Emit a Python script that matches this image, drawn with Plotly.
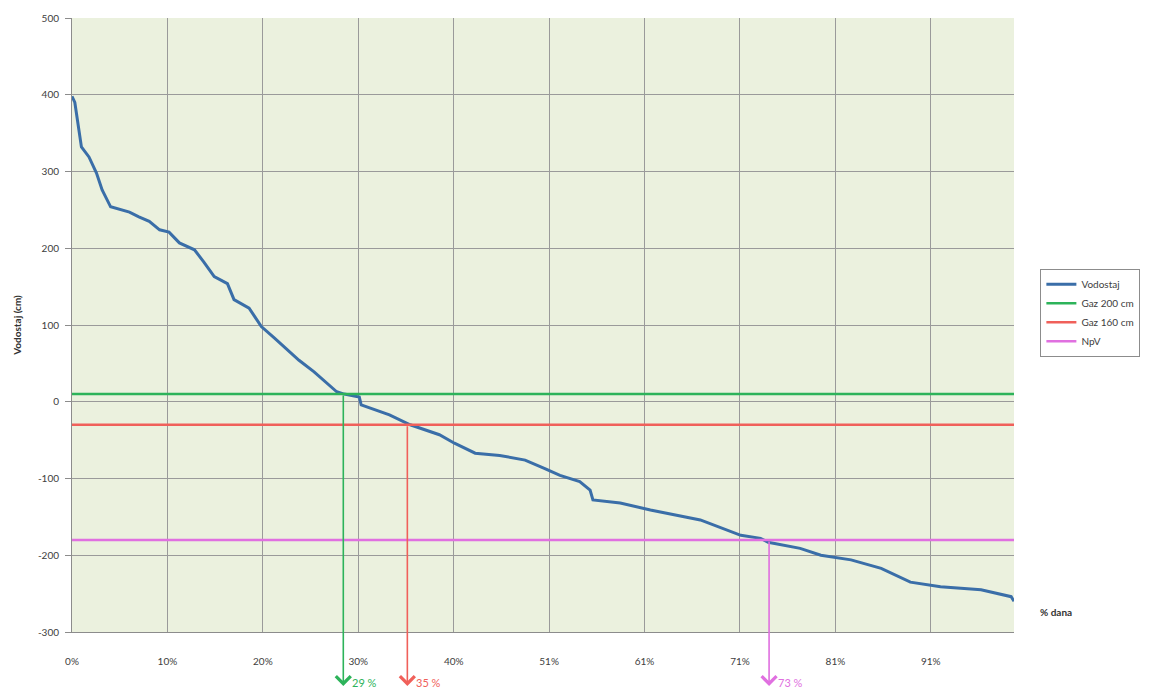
import plotly.graph_objects as go

# Duration curve (percent of days vs water level)
pct_days = [0.0, 0.3, 1.0, 1.8, 2.6, 3.2, 4.1, 6.1, 7.1, 8.2, 9.3, 10.3, 11.4, 13.0, 14.0,
            15.1, 16.5, 17.2, 18.8, 20.1, 21.5, 23.1, 24.1, 25.7, 28.1, 28.9, 30.5, 30.7,
            33.7, 35.9, 39.0, 40.6, 42.8, 45.4, 48.1, 50.2, 51.8, 53.9, 55.0, 55.3, 58.2,
            61.4, 66.7, 71.0, 73.1, 73.9, 77.3, 79.5, 82.7, 85.9, 89.0, 92.2, 96.5, 99.7, 100.0]
vodostaj = [398, 390, 332, 319, 298, 276, 254, 247, 241, 235, 224, 221, 207, 198, 182,
            163, 154, 133, 122, 98, 83, 65, 54, 39, 13, 10, 6, -4,
            -17, -30, -43, -54, -67, -70, -76, -87, -96, -104, -115, -128, -132,
            -141, -154, -174, -178, -183, -191, -200, -206, -217, -235, -241, -245, -254, -260]

levels = {"Gaz 200 cm": 10, "Gaz 160 cm": -30, "NpV": -180}
level_colors = {"Gaz 200 cm": "#2db35a", "Gaz 160 cm": "#f0605a", "NpV": "#e070e0"}
crossings = {"Gaz 200 cm": 28.8, "Gaz 160 cm": 35.6, "NpV": 74.0}
crossing_labels = {"Gaz 200 cm": "29 %", "Gaz 160 cm": "35 %", "NpV": "73 %"}

tick_vals = [i * 10.13 for i in range(10)]
tick_text = ["0%", "10%", "20%", "30%", "40%", "51%", "61%", "71%", "81%", "91%"]
y_ticks = [-300, -200, -100, 0, 100, 200, 300, 400, 500]
y_tick_text = [str(v) for v in y_ticks]

FONT = "Lato, 'Open Sans', sans-serif"

# page body has an 8px margin; figure is sized to fit the window
W, H = 1168, 681
ML, MR, MT, MB = 64, 162, 10, 57
plot_h = H - MT - MB

fig = go.Figure()
fig.add_trace(go.Scatter(x=pct_days, y=vodostaj, mode="lines", name="Vodostaj",
                         line=dict(color="#3a6ea8", width=3)))
for name, val in levels.items():
    fig.add_trace(go.Scatter(x=[0, 100], y=[val, val], mode="lines", name=name,
                             line=dict(color=level_colors[name], width=2.5)))

head_px = 678  # arrow head position in figure pixels from top
head_paper = (MT + plot_h - head_px) / plot_h
label_paper = (MT + plot_h - 674) / plot_h
for name, xv in crossings.items():
    lvl = levels[name]
    ypx_level = MT + plot_h * (500 - lvl) / 800
    fig.add_annotation(x=xv, y=head_paper, xref="x", yref="paper",
                       ax=0, ay=-(head_px - ypx_level), axref="pixel", ayref="pixel",
                       showarrow=True, arrowhead=4, arrowsize=1.8, arrowwidth=1.6,
                       arrowcolor=level_colors[name], text="")
    fig.add_annotation(x=xv, y=label_paper, xref="x", yref="paper",
                       text=crossing_labels[name], showarrow=False, xanchor="left",
                       xshift=7, yanchor="middle",
                       font=dict(family=FONT, size=11, color=level_colors[name]))

fig.add_annotation(x=1.026, y=(MT + plot_h - 612) / plot_h, xref="paper", yref="paper",
                   text="<b>% dana</b>", showarrow=False, xanchor="left",
                   font=dict(family=FONT, size=10, color="#333333"))

fig.update_layout(
    width=W, height=H,
    margin=dict(l=ML, r=MR, t=MT, b=MB),
    paper_bgcolor="white", plot_bgcolor="#ebf1de",
    font=dict(family=FONT, size=10, color="#404040"),
    legend=dict(x=1.028, y=0.52, xanchor="left", yanchor="middle",
                bordercolor="#8c8c8c", borderwidth=1, bgcolor="white",
                font=dict(size=10, color="#404040"), tracegroupgap=2),
    xaxis=dict(range=[0, 100], tickvals=tick_vals, ticktext=tick_text,
               showgrid=True, gridcolor="#9a9a9a", gridwidth=1,
               showline=True, linecolor="#8c8c8c", zeroline=False,
               ticks="", ticklabelstandoff=20, fixedrange=True, automargin=False),
    yaxis=dict(range=[-300, 500], tickvals=y_ticks, ticktext=y_tick_text,
               showgrid=True, gridcolor="#9a9a9a", gridwidth=1,
               showline=True, linecolor="#8c8c8c", zeroline=False,
               ticks="outside", ticklen=6, tickcolor="#8c8c8c", ticklabelstandoff=4,
               automargin=False,
               title=dict(text="<b>Vodostaj (cm)</b>", font=dict(size=10, color="#333333"), standoff=14)),
)

fig.write_html("out.html")
